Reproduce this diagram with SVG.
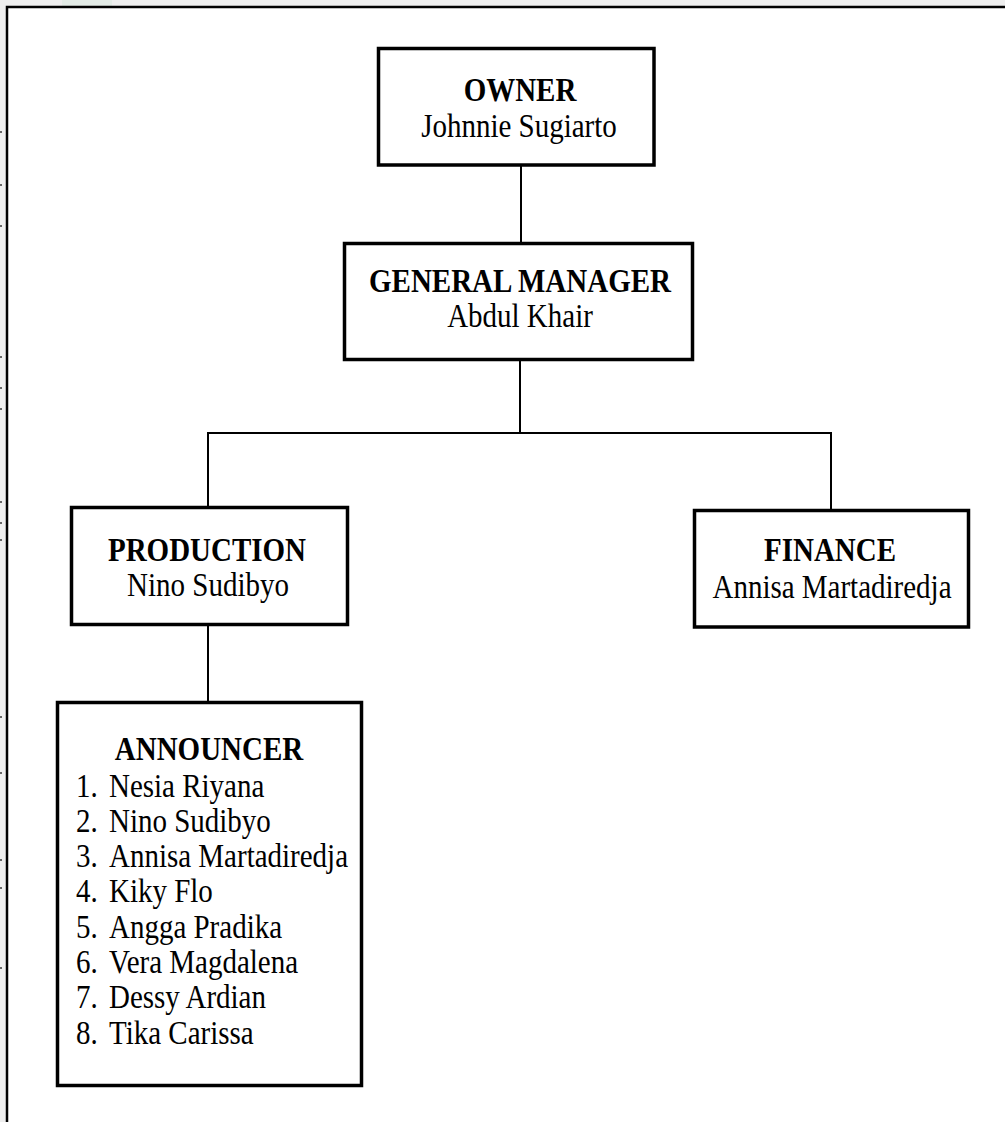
<svg xmlns="http://www.w3.org/2000/svg" width="1005" height="1122" viewBox="0 0 1005 1122">
  <style>
    .box { fill: #ffffff; stroke: #000000; stroke-width: 3.5; }
    .conn { stroke: #000000; stroke-width: 2; fill: none; }
    .t { font-family: "Liberation Serif", "Times New Roman", serif; fill: #000000; font-size: 29px; }
    .b { font-weight: bold; }
    .c { text-anchor: middle; }
    .dot { fill: #666666; }
  </style>
  <rect x="0" y="0" width="1005" height="1122" fill="#eeeeee"/>
  <rect x="62" y="0" width="50" height="6" fill="#e3ebe6"/>
  <g id="ruler-dots">
    <rect class="dot" x="0" y="131" width="2" height="2"/>
    <rect class="dot" x="0" y="184" width="2" height="2"/>
    <rect class="dot" x="0" y="225" width="2" height="2"/>
    <rect class="dot" x="0" y="356" width="2" height="2"/>
    <rect class="dot" x="0" y="387" width="2" height="2"/>
    <rect class="dot" x="0" y="408" width="2" height="2"/>
    <rect class="dot" x="0" y="501" width="2" height="2"/>
    <rect class="dot" x="0" y="522" width="2" height="2"/>
    <rect class="dot" x="0" y="539" width="2" height="2"/>
    <rect class="dot" x="0" y="716" width="2" height="2"/>
    <rect class="dot" x="0" y="772" width="2" height="2"/>
    <rect class="dot" x="0" y="859" width="2" height="2"/>
    <rect class="dot" x="0" y="887" width="2" height="2"/>
    <rect class="dot" x="0" y="967" width="2" height="2"/>
  </g>
  <rect x="7" y="7" width="1010" height="1130" fill="#ffffff" stroke="#000000" stroke-width="2.5"/>

  <g id="connectors">
    <line class="conn" x1="521" y1="166" x2="521" y2="244"/>
    <line class="conn" x1="520" y1="360" x2="520" y2="433"/>
    <line class="conn" x1="207" y1="433" x2="832" y2="433"/>
    <line class="conn" x1="208" y1="432" x2="208" y2="508"/>
    <line class="conn" x1="831" y1="432" x2="831" y2="511"/>
    <line class="conn" x1="208" y1="625" x2="208" y2="703"/>
  </g>

  <g id="owner">
    <rect class="box" x="378.5" y="48.5" width="275.5" height="116.5"/>
    <text class="t b c" transform="translate(520,101) scale(1,1.14)">OWNER</text>
    <text class="t c" transform="translate(519,137) scale(1,1.14)">Johnnie Sugiarto</text>
  </g>

  <g id="general-manager">
    <rect class="box" x="344.5" y="243.5" width="348" height="116"/>
    <text class="t b c" transform="translate(520,292) scale(1,1.14)">GENERAL MANAGER</text>
    <text class="t c" transform="translate(520,327) scale(1,1.14)">Abdul Khair</text>
  </g>

  <g id="production">
    <rect class="box" x="71.5" y="507.5" width="276" height="117"/>
    <text class="t b c" transform="translate(207,561) scale(1,1.14)">PRODUCTION</text>
    <text class="t c" transform="translate(208,596) scale(1,1.14)">Nino Sudibyo</text>
  </g>

  <g id="finance">
    <rect class="box" x="694.5" y="510.5" width="274" height="116.5"/>
    <text class="t b c" transform="translate(830,561) scale(1,1.14)">FINANCE</text>
    <text class="t c" transform="translate(832,598) scale(1,1.14)">Annisa Martadiredja</text>
  </g>

  <g id="announcer">
    <rect class="box" x="57.5" y="702.5" width="304" height="383"/>
    <text class="t b c" transform="translate(209,760) scale(1,1.14)">ANNOUNCER</text>
    <text class="t" transform="translate(76,797) scale(1,1.14)">1.<tspan x="33">Nesia Riyana</tspan></text>
    <text class="t" transform="translate(76,832) scale(1,1.14)">2.<tspan x="33">Nino Sudibyo</tspan></text>
    <text class="t" transform="translate(76,867) scale(1,1.14)">3.<tspan x="33">Annisa Martadiredja</tspan></text>
    <text class="t" transform="translate(76,902) scale(1,1.14)">4.<tspan x="33">Kiky Flo</tspan></text>
    <text class="t" transform="translate(76,938) scale(1,1.14)">5.<tspan x="33">Angga Pradika</tspan></text>
    <text class="t" transform="translate(76,973) scale(1,1.14)">6.<tspan x="33">Vera Magdalena</tspan></text>
    <text class="t" transform="translate(76,1008) scale(1,1.14)">7.<tspan x="33">Dessy Ardian</tspan></text>
    <text class="t" transform="translate(76,1044) scale(1,1.14)">8.<tspan x="33">Tika Carissa</tspan></text>
  </g>
</svg>
